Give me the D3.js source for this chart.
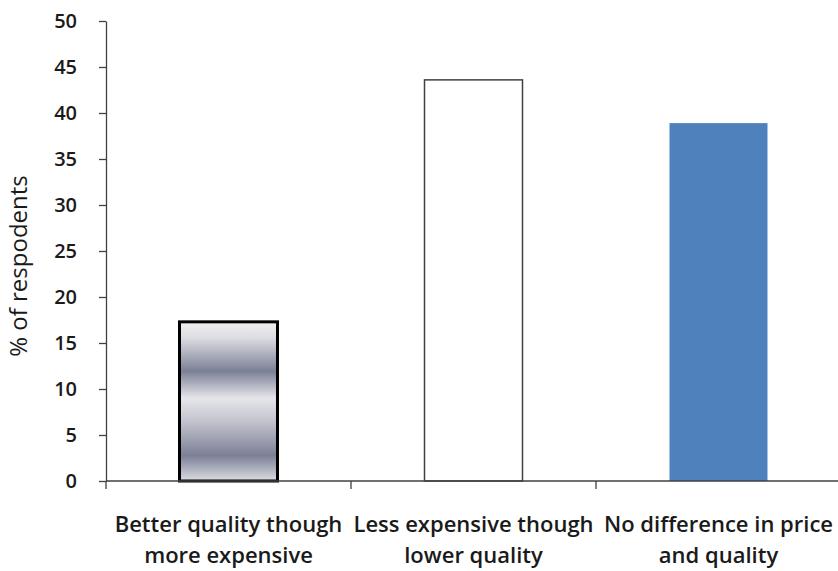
<!DOCTYPE html>
<html>
<head>
<meta charset="utf-8">
<script src="https://cdn.jsdelivr.net/npm/d3@7"></script>
<style>
  html, body { margin: 0; padding: 0; background: #fff; }
  svg { display: block; }
  text { font-family: "Open Sans", "DejaVu Sans", sans-serif; fill: #1a1a1a; }
</style>
</head>
<body>
<svg id="chart" width="838" height="571"></svg>
<script>
// Survey answers: preferred product choice
const categories = [
  ["Better quality though", "more expensive"],
  ["Less expensive though", "lower quality"],
  ["No difference in price", "and quality"]
];
const values = [17.3, 43.6, 38.9];
const yTicks = [0, 5, 10, 15, 20, 25, 30, 35, 40, 45, 50];

const svg = d3.select("#chart");
const margin = { left: 106, right: -3, top: 21, bottom: 90 };
const W = 838, H = 571;

const x = d3.scaleBand()
  .domain(d3.range(values.length))
  .range([margin.left, W - margin.right])
  .paddingInner(0.6)
  .paddingOuter(0.3);

const y = d3.scaleLinear()
  .domain([0, 50])
  .range([H - margin.bottom, margin.top]);

// Metallic striped fill for the first bar
const defs = svg.append("defs");
const grad = defs.append("linearGradient")
  .attr("id", "metal").attr("x1", 0).attr("y1", 0).attr("x2", 0).attr("y2", 1);
[
  [0.00, "#f0f0f2"], [0.10, "#dcdde2"], [0.31, "#7c8096"],
  [0.48, "#e6e6ea"], [0.62, "#c4c5cf"], [0.84, "#7c8096"], [1.00, "#dcdde2"]
].forEach(([o, c]) => grad.append("stop").attr("offset", o).attr("stop-color", c));

const fills = ["url(#metal)", "#ffffff", "#4f81bd"];
const strokes = ["#000000", "#404040", "none"];
const strokeW = [3, 1.5, 0];

// Bars
svg.append("g").selectAll("rect")
  .data(values)
  .join("rect")
  .attr("x", (d, i) => x(i))
  .attr("width", x.bandwidth())
  .attr("y", d => y(d))
  .attr("height", d => y(0) - y(d))
  .attr("fill", (d, i) => fills[i])
  .attr("stroke", (d, i) => strokes[i])
  .attr("stroke-width", (d, i) => strokeW[i]);

// Y axis
const yAxis = svg.append("g")
  .attr("transform", `translate(${margin.left},0)`)
  .call(d3.axisLeft(y).tickValues(yTicks).tickSize(7).tickPadding(22).tickSizeOuter(0));
yAxis.select(".domain").attr("stroke", "#404040").attr("stroke-width", 1.3);
yAxis.selectAll(".tick line").attr("stroke", "#404040").attr("stroke-width", 1.3);
yAxis.selectAll(".tick text")
  .style("font-size", "20px").style("font-weight", "600").attr("fill", "#1a1a1a");

// X axis: baseline with category separators
const xAxis = svg.append("g").attr("transform", `translate(0,${y(0)})`);
xAxis.append("line")
  .attr("x1", margin.left).attr("x2", W)
  .attr("stroke", "#404040").attr("stroke-width", 1.3);
const bounds = d3.range(values.length).map(i => x(i) - x.step() * x.paddingInner() / 2);
xAxis.selectAll(".sep")
  .data(bounds)
  .join("line")
  .attr("class", "sep")
  .attr("x1", d => d).attr("x2", d => d)
  .attr("y1", 0).attr("y2", 8)
  .attr("stroke", "#404040").attr("stroke-width", 1.3);

// Category labels
const labels = svg.append("g").selectAll("text")
  .data(categories)
  .join("text")
  .attr("text-anchor", "middle")
  .attr("x", (d, i) => x(i) + x.bandwidth() / 2)
  .attr("y", y(0) + 51)
  .style("font-size", "22px")
  .style("font-weight", "600");
labels.selectAll("tspan")
  .data(d => d)
  .join("tspan")
  .attr("x", function () { return d3.select(this.parentNode).attr("x"); })
  .attr("dy", (d, j) => j === 0 ? 0 : 31)
  .text(d => d);

// Y axis title
svg.append("text")
  .attr("transform", `translate(27,${(y(0) + y(50)) / 2 + 15}) rotate(-90)`)
  .attr("text-anchor", "middle")
  .style("font-size", "24px")
  .text("% of respodents");
</script>
</body>
</html>
